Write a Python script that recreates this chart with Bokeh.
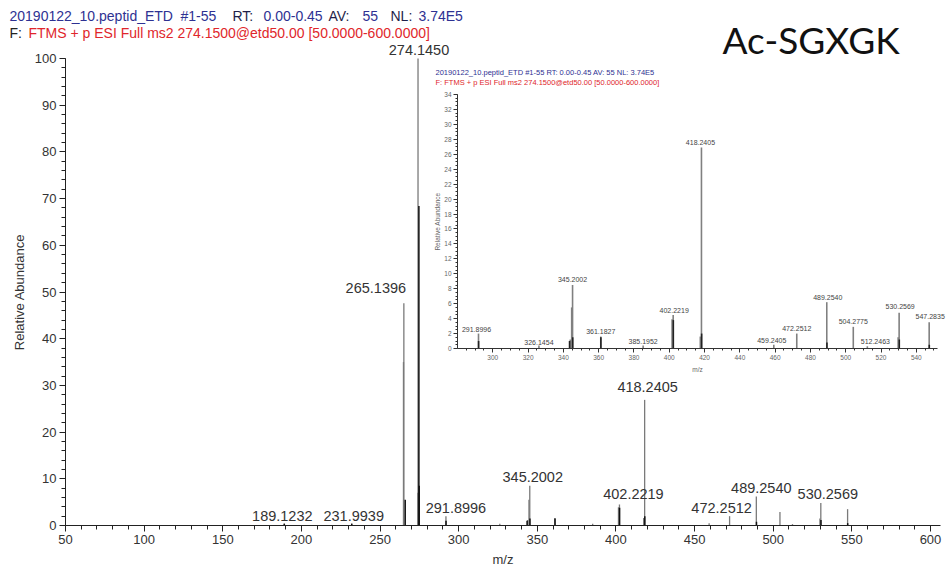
from bokeh.plotting import figure
from bokeh.models import (Range1d, LinearAxis, FixedTicker, ColumnDataSource,
                          LabelSet, Label)
from bokeh.core.properties import value
from bokeh.embed import file_html
from bokeh.resources import INLINE

# ---- spectrum data (m/z, relative abundance %) ----
# lighter profile sticks
profile_mz = [189.1232, 231.9939, 264.90, 265.1396, 273.95, 274.1450, 291.8996,
              326.1454, 343.90, 344.70, 345.2002, 361.1827, 385.1952, 401.60,
              402.2219, 417.60, 418.2405, 459.2405, 472.2512, 489.2540,
              504.2775, 512.2463, 529.70, 530.2569, 547.2835]
profile_int = [0.4, 0.4, 35.0, 47.6, 7.0, 100.0, 2.0,
               0.4, 1.2, 5.5, 8.5, 1.6, 0.4, 3.9,
               4.5, 1.6, 26.9, 0.5, 2.0, 6.2,
               2.9, 0.3, 1.5, 4.8, 3.5]
# darker centroid sticks
core_mz = [189.1232, 231.9939, 266.00, 274.70, 274.90, 291.95, 343.50, 345.30,
           361.25, 402.30, 418.35, 489.35, 530.35, 547.35]
core_int = [0.4, 0.4, 5.5, 68.4, 8.5, 1.0, 1.0, 1.5,
            1.5, 3.8, 2.0, 0.8, 1.2, 0.5]

main_labels = [189.1232, 231.9939, 265.1396, 274.1450, 291.8996, 345.2002,
               402.2219, 418.2405, 472.2512, 489.2540, 530.2569]
inset_labels = [291.8996, 326.1454, 345.2002, 361.1827, 385.1952, 402.2219,
                418.2405, 459.2405, 472.2512, 489.2540, 504.2775, 512.2463,
                530.2569, 547.2835]

x_ticks = list(range(50, 601, 50))
y_ticks = list(range(0, 101, 10))
inset_x_ticks = list(range(300, 541, 20))
inset_y_ticks = list(range(0, 35, 2))

# ---- layout (pixels); the frame spans the whole canvas ----
W, H = 948, 573
AX_L, AX_R, AX_T, AX_B = 65, 940, 58, 525    # main axes box
XS = (930 - 65) / 550.0                       # px per m/z unit
YS = (AX_B - AX_T) / 100.0                    # px per % unit
X0 = 50.0
X1 = X0 + (AX_R - AX_L) / XS
x_range = Range1d(X0 - AX_L / XS, X0 + (W - AX_L) / XS)
y_range = Range1d(-(H - AX_B) / YS, 100 + AX_T / YS)

# inset box: m/z 280..552 over px 457..937, abundance 0..34 over px 348..94
IX0, IX1, IPX0, IPX1 = 280.0, 552.0, 457.0, 937.0
IY0, IY1, IPY0, IPY1 = 0.0, 34.0, 348.0, 94.0
ixs = (IPX1 - IPX0) / (IX1 - IX0)
iys = (IPY0 - IPY1) / (IY1 - IY0)
ix_range = Range1d(IX0 - IPX0 / ixs, IX1 + (W - IPX1) / ixs)
iy_range = Range1d(IY0 - (H - IPY0) / iys, IY1 + IPY1 / iys)

FONT = "Liberation Sans"


def mx(px):
    return X0 + (px - AX_L) / XS


def my(py):
    return (AX_B - py) / YS


p = figure(width=W, height=H, x_range=x_range, y_range=y_range,
           x_axis_type=None, y_axis_type=None,
           output_backend="svg", toolbar_location=None, min_border=0)
p.extra_x_ranges = {"ix": ix_range}
p.extra_y_ranges = {"iy": iy_range}
p.outline_line_color = None
p.background_fill_color = "white"
p.border_fill_color = "white"


def style_axis(a, color, label_color, tick_font, label_font, major, minor,
               standoff, label_standoff):
    a.axis_line_color = color
    a.major_tick_line_color = color
    a.minor_tick_line_color = color
    a.major_tick_in = 0
    a.major_tick_out = major
    a.minor_tick_in = 0
    a.minor_tick_out = minor
    a.major_label_text_font = FONT
    a.major_label_text_font_size = tick_font
    a.major_label_text_color = label_color
    a.axis_label_text_font = FONT
    a.axis_label_text_font_size = label_font
    a.axis_label_text_font_style = "normal"
    a.axis_label_text_color = label_color
    a.major_label_standoff = standoff
    a.axis_label_standoff = label_standoff


# ---- main axes ----
ax = LinearAxis(fixed_location=0, bounds=(X0, X1),
                ticker=FixedTicker(ticks=x_ticks,
                                   minor_ticks=list(range(50, 607, 10))),
                axis_label="m/z")
ay = LinearAxis(fixed_location=X0, bounds=(0, 100),
                ticker=FixedTicker(ticks=y_ticks,
                                   minor_ticks=list(range(0, 101, 2))),
                axis_label="Relative Abundance")
style_axis(ax, "#222222", "#333333", "13px", "13px", 6, 4, 3, 5)
style_axis(ay, "#222222", "#333333", "13px", "13px", 6, 4, 3, 5)
p.add_layout(ax, "below")
p.add_layout(ay, "left")

# ---- main spectrum ----
prof = ColumnDataSource(dict(mz=profile_mz, inten=profile_int))
core = ColumnDataSource(dict(mz=core_mz, inten=core_int))
p.segment(x0="mz", y0=0, x1="mz", y1="inten", source=prof,
          line_color="#7a7a7a", line_width=1.3)
p.segment(x0="mz", y0=0, x1="mz", y1="inten", source=core,
          line_color="#111111", line_width=1.5)

apex = dict(zip(profile_mz, profile_int))

# label nudges in px (dx, dy above apex)
main_nudge = {189.1232: (-2, 3), 231.9939: (2, 3), 265.1396: (-28, 10),
              274.1450: (1, 4), 291.8996: (10, 3), 345.2002: (3, 4),
              402.2219: (14, 5), 418.2405: (3, 8), 472.2512: (-8, 3),
              489.2540: (5, 4), 530.2569: (7, 4)}
msrc = ColumnDataSource(dict(
    mz=main_labels, inten=[apex[m] for m in main_labels],
    txt=[f"{m:.4f}" for m in main_labels],
    dx=[main_nudge[m][0] for m in main_labels],
    dy=[main_nudge[m][1] for m in main_labels]))
p.add_layout(LabelSet(x="mz", y="inten", text="txt", source=msrc,
                      x_offset="dx", y_offset="dy", text_align="center",
                      text_baseline="bottom", text_font=value(FONT),
                      text_font_size=value("14.5px"), text_color="#333333"))

# ---- inset spectrum ----
def in_window(xs, ys):
    keep = [(a, b) for a, b in zip(xs, ys) if IX0 <= a <= IX1]
    return dict(mz=[k[0] for k in keep], inten=[k[1] for k in keep])


iprof = ColumnDataSource(in_window(profile_mz, profile_int))
icore = ColumnDataSource(in_window(core_mz, core_int))
p.segment(x0="mz", y0=0, x1="mz", y1="inten", source=iprof,
          x_range_name="ix", y_range_name="iy",
          line_color="#808080", line_width=1.6)
p.segment(x0="mz", y0=0, x1="mz", y1="inten", source=icore,
          x_range_name="ix", y_range_name="iy",
          line_color="#222222", line_width=1.6)

inset_nudge = {291.8996: (-2, 2), 326.1454: (0, 1), 345.2002: (0, 3),
               361.1827: (0, 3), 385.1952: (0, 2), 402.2219: (1, 2),
               418.2405: (-1, 3), 459.2405: (-2, 2), 472.2512: (0, 3),
               489.2540: (1, 2), 504.2775: (0, 3), 512.2463: (8, 2),
               530.2569: (1, 4), 547.2835: (1, 3)}
isrc = ColumnDataSource(dict(
    mz=inset_labels, inten=[apex[m] for m in inset_labels],
    txt=[f"{m:.4f}" for m in inset_labels],
    dx=[inset_nudge[m][0] for m in inset_labels],
    dy=[inset_nudge[m][1] for m in inset_labels]))
p.add_layout(LabelSet(x="mz", y="inten", text="txt", source=isrc,
                      x_range_name="ix", y_range_name="iy",
                      x_offset="dx", y_offset="dy", text_align="center",
                      text_baseline="bottom", text_font=value(FONT),
                      text_font_size=value("7px"), text_color="#444444"))

iax = LinearAxis(x_range_name="ix", y_range_name="iy", fixed_location=IY0,
                 bounds=(IX0, IX1),
                 ticker=FixedTicker(ticks=inset_x_ticks,
                                    minor_ticks=list(range(285, 551, 5))),
                 axis_label="m/z")
iay = LinearAxis(x_range_name="ix", y_range_name="iy", fixed_location=IX0,
                 bounds=(IY0, IY1),
                 ticker=FixedTicker(ticks=inset_y_ticks,
                                    minor_ticks=[k * 0.5 for k in range(69)]),
                 axis_label="Relative Abundance")
style_axis(iax, "#333333", "#666666", "6.5px", "6.5px", 4, 2, 2, 3)
style_axis(iay, "#333333", "#666666", "6.5px", "6.5px", 4, 2, 2, 0)
p.add_layout(iax, "below")
p.add_layout(iay, "left")

# ---- header texts (positions are text centre lines, px) ----
BLUE, INK, RED = "#2e3192", "#1f1f4a", "#e0262b"
header = [
    ("20190122_10.peptid_ETD", 9, 15, BLUE),
    ("#1-55", 180, 15, BLUE),
    ("RT:", 232, 15, INK), ("0.00-0.45", 263, 15, BLUE),
    ("AV:", 328, 15, INK), ("55", 362, 15, BLUE),
    ("NL:", 390, 15, INK), ("3.74E5", 418, 15, BLUE),
    ("F:", 9, 32, "#222222"),
    ("FTMS + p ESI Full ms2 274.1500@etd50.00 [50.0000-600.0000]", 28, 32, RED),
]
for txt, px, py, col in header:
    p.add_layout(Label(x=mx(px), y=my(py), text=txt, text_color=col,
                       text_font=FONT, text_font_size="14px",
                       text_baseline="middle", text_align="left"))

inset_header = [
    ("20190122_10.peptid_ETD #1-55  RT: 0.00-0.45  AV: 55  NL: 3.74E5", 435, 72, BLUE),
    ("F: FTMS + p ESI Full ms2 274.1500@etd50.00 [50.0000-600.0000]", 435, 82, RED),
]
for txt, px, py, col in inset_header:
    p.add_layout(Label(x=mx(px), y=my(py), text=txt, text_color=col,
                       text_font=FONT, text_font_size="7.5px",
                       text_baseline="middle", text_align="left"))

p.add_layout(Label(x=mx(722), y=my(39), text="Ac-SGXGK", text_color="#111111",
                   text_font="Lato", text_font_size="37px",
                   text_baseline="middle", text_align="left"))

open("out.html", "w").write(file_html(p, INLINE))
